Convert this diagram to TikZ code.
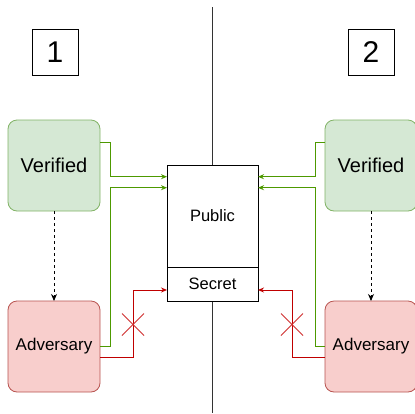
\documentclass[tikz,border=0pt]{standalone}
\usepackage{fontspec}
\setmainfont{Liberation Sans}
\usetikzlibrary{arrows.meta,calc}
\definecolor{vfill}{HTML}{D5E8D4}
\definecolor{vdraw}{HTML}{82B366}
\definecolor{afill}{HTML}{F8CECC}
\definecolor{adraw}{HTML}{B85450}
\definecolor{grn}{HTML}{4D9900}
\definecolor{rd}{HTML}{C00000}
\definecolor{xrd}{HTML}{D03030}
\definecolor{divline}{HTML}{333333}
\begin{document}
\begin{tikzpicture}[x=1pt,y=-1pt,
  every node/.style={inner sep=0pt,outer sep=0pt},
  numbox/.style={draw=black,line width=0.8pt,fill=white,minimum width=46pt,minimum height=46pt,font=\fontsize{30}{32}\selectfont},
  verbox/.style={draw=vdraw,fill=vfill,line width=0.8pt,rounded corners=9pt,minimum width=92pt,minimum height=91pt,font=\fontsize{20}{22}\selectfont},
  advbox/.style={draw=adraw,fill=afill,line width=0.8pt,rounded corners=9pt,minimum width=92pt,minimum height=91pt,font=\fontsize{17}{19}\selectfont},
  memrect/.style={draw=black,line width=0.8pt,fill=white,minimum width=91pt,font=\fontsize{16.5}{18}\selectfont},
  gline/.style={draw=grn,line width=0.9pt,-{Stealth[length=6pt,width=5pt]}},
  rline/.style={draw=rd,line width=0.9pt,-{Stealth[length=6pt,width=5pt]}},
  dline/.style={draw=black,line width=0.9pt,dashed,dash pattern=on 3pt off 3pt,-{Stealth[length=7pt,width=6pt]}},
  xmark/.style={draw=xrd,line width=0.8pt}]
\useasboundingbox (0,0) rectangle (415,413);
\fill[white] (0,0) rectangle (415,413);
% divider
\coordinate (dtop) at (212.5,7);
\coordinate (dbot) at (212.5,413);
\draw[divline,line width=0.9pt] (dtop) -- (dbot);
% number boxes
\node[numbox] (n1) at (55,52) {1};
\node[numbox] (n2) at (371,52) {2};
% memory
\node[memrect,minimum height=102pt] (P) at (212.5,216) {Public};
\node[memrect,minimum height=34pt] (S) at (212.5,284) {Secret};
% left side
\node[verbox] (VL) at (54,165.5) {Verified};
\node[advbox] (AL) at (54,346.5) {Adversary};
% right side
\node[verbox] (VR) at (371,165.5) {Verified};
\node[advbox] (AR) at (371,346.5) {Adversary};
% dashed
\draw[dline] (VL.south) -- (AL.north);
\draw[dline] (VR.south) -- (AR.north);
% green left
\draw[gline] ([yshift=-22.7pt]VL.north east) -- ++(10,0) |- ([yshift=-11.7pt]P.north west);
\draw[gline] (AL.east) -- ++(10,0) |- ([yshift=-22.7pt]P.north west);
% green right
\draw[gline] ([yshift=-22.7pt]VR.north west) -- ++(-10,0) |- ([yshift=-11.7pt]P.north east);
\draw[gline] (AR.west) -- ++(-10,0) |- ([yshift=-22.7pt]P.north east);
% red
\draw[rline] ([yshift=-11pt]AL.east) -- ++(33,0) |- ([yshift=-6pt]S.west);
\draw[rline] ([yshift=-11pt]AR.west) -- ++(-33,0) |- ([yshift=-6pt]S.east);
% crosses
\coordinate (xl) at (133,324.5);
\coordinate (xr) at (292,324.5);
\draw[xmark] ($(xl)+(-11,-11)$) -- ($(xl)+(11,11)$);
\draw[xmark] ($(xl)+(-11,11)$) -- ($(xl)+(11,-11)$);
\draw[xmark] ($(xr)+(-11,-11)$) -- ($(xr)+(11,11)$);
\draw[xmark] ($(xr)+(-11,11)$) -- ($(xr)+(11,-11)$);
\end{tikzpicture}
\end{document}
